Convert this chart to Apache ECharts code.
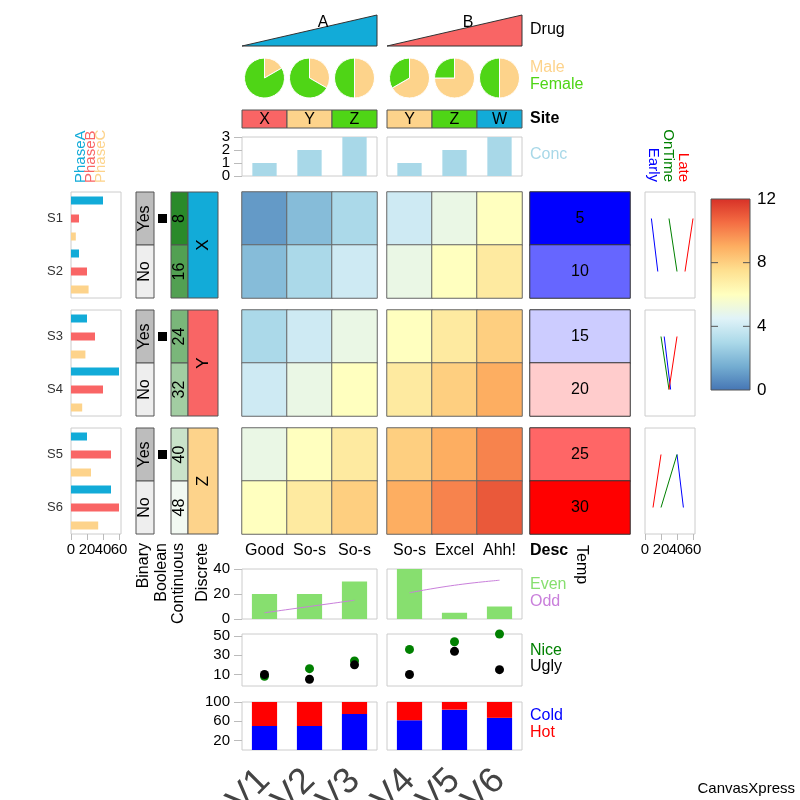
<!DOCTYPE html>
<html><head><meta charset="utf-8">
<script src="https://cdn.jsdelivr.net/npm/echarts@6.0.0/dist/echarts.min.js"></script>
<style>html,body{margin:0;padding:0;background:#fff}#c{width:800px;height:800px}</style>
</head><body><div id="c"></div>
<script>
// ---------------- data ----------------
const variables = ['V1','V2','V3','V4','V5','V6'];
const samples = ['S1','S2','S3','S4','S5','S6'];
const heatValues = [
  [1,2,3,4,5,6],
  [2,3,4,5,6,7],
  [3,4,5,6,7,8],
  [4,5,6,7,8,9],
  [5,6,7,8,9,10],
  [6,7,8,9,10,11]
];
// variable annotations
const drug = ['A','A','A','B','B','B'];
const male = [1,2,3,4,3,2];
const female = [5,4,3,2,1,2];
const site = ['X','Y','Z','Y','Z','W'];
const conc = [1,2,3,1,2,3];
const desc = ['Good','So-s','So-s','So-s','Excel','Ahh!'];
const even = [20,20,30,40,5,10];
const odd = [5,10,15,21,27,31];
const nice = [8,16,24,36,44,52];
const ugly = [10,5,20,10,34,15];
const cold = [50,50,75,62,84,67];
const hot = [50,50,25,38,16,33];
// sample annotations
const phaseA = [40,10,20,60,20,50];
const phaseB = [10,20,30,40,50,60];
const phaseC = [6,22,18,14,25,34];
const binary = ['Yes','No','Yes','No','Yes','No'];
const booleanVals = [true,false,true,false,true,false];
const continuous = [8,16,24,32,40,48];
const discrete = ['X','X','Y','Y','Z','Z'];
const temp = [5,10,15,20,25,30];
const early = [8,16,24,32,40,48];
const ontime = [30,40,20,30,40,20];
const late = [60,50,40,30,20,10];
// tick labels
const barTicks = [0,20,40,60];
const concTicks = [0,1,2,3];
const evenTicks = [0,20,40];
const niceTicks = [10,30,50];
const coldTicks = [20,60,100];
const colorbarTicks = [0,4,8,12];
const colorbarInnerTicks = [4,8];

// ---------------- styles ----------------
const FF = '"Liberation Sans", Arial, Helvetica, sans-serif';
const font = (sz, w) => (w ? w + ' ' : '') + sz + 'px ' + FF;
const BLUE = '#12abd8', SALMON = '#f96565', ORANGE = '#fdd38b', LIME = '#4fd516';
const drugColors = {A: BLUE, B: SALMON};
const siteColors = {X: SALMON, Y: ORANGE, Z: LIME, W: BLUE};
const discreteColors = {X: BLUE, Y: SALMON, Z: ORANGE};
const binaryColors = {Yes: '#bdbdbd', No: '#eeeeee'};
const RDYLBU = ['#4575b4','#74add1','#abd9e9','#e0f3f8','#ffffbf','#fee090','#fdae61','#f46d43','#d73027'];

// layout
const HX = [{left:242,width:135,vars:[0,1,2]},{left:387,width:135,vars:[3,4,5]}];
const HY = [{top:192,height:106,samp:[0,1]},{top:310,height:106,samp:[2,3]},{top:428,height:106,samp:[4,5]}];

const grids=[], xAxis=[], yAxis=[], series=[];
const heatIdx=[], tempIdx=[], contIdx=[];
function addGrid(r, show, bc, bg){ grids.push(Object.assign({show:!!show, outerBoundsMode:'none', containLabel:false, borderColor:bc||'#cccccc', borderWidth:1, backgroundColor:bg||'transparent'}, r)); return grids.length-1; }
function addX(gi,o){ xAxis.push(Object.assign({gridIndex:gi}, o)); return xAxis.length-1; }
function addY(gi,o){ yAxis.push(Object.assign({gridIndex:gi}, o)); return yAxis.length-1; }
const HID = {axisLine:{show:false}, axisTick:{show:false}, axisLabel:{show:false}, splitLine:{show:false}};
const cat = (data, ex) => Object.assign({type:'category', data}, HID, ex||{});
const val = (min, max, ex) => Object.assign({type:'value', min, max}, HID, ex||{});
function lab(values, margin){ return {show:true, customValues:values, showMinLabel:true, showMaxLabel:true, hideOverlap:false, fontSize:15, fontFamily:FF, color:'#000', margin}; }
function shownY(values){ return {axisLabel:lab(values, 12), axisTick:{show:true, customValues:values, length:8, lineStyle:{color:'#bbbbbb'}}}; }
function tickOnlyY(values){ return {axisTick:{show:true, customValues:values, length:8, lineStyle:{color:'#bbbbbb'}}}; }
function tickOnlyX(values){ return {axisTick:{show:true, customValues:values, length:6, lineStyle:{color:'#bbbbbb'}}}; }
function txt(text, x, y, fill, size, extra){ return Object.assign({type:'text', x, y, style:{text, font:font(size, extra && extra.weight), fill, textAlign:(extra&&extra.align)||'left', textVerticalAlign:'middle'}}, extra && extra.rotation ? {rotation: extra.rotation} : {}); }
// tightly packed tick labels (allowed to touch, as in the original) drawn through the axis scale
function tickLabelSeries(xi, yi, values, dir){
  return {type:'custom', xAxisIndex:xi, yAxisIndex:yi, silent:true, clip:false,
    data: values.map(v => dir === 'y' ? [0, v] : [v, 0]),
    renderItem:(p, api) => { const cs = p.coordSys;
      if (dir === 'y') { const y = api.coord([0, api.value(1)])[1];
        return {type:'text', x:cs.x-12, y, style:{text:String(api.value(1)), font:font(15), fill:'#000', textAlign:'right', textVerticalAlign:'middle'}}; }
      const x = api.coord([api.value(0), 0])[0];
      return {type:'text', x, y:cs.y+cs.height+16, style:{text:String(api.value(0)), font:font(15), fill:'#000', textAlign:'center', textVerticalAlign:'middle'}}; }};
}

function cellRect(api, fill, stroke){
  const c = api.coord([api.value(0), api.value(1)]);
  const s = api.size([1,1]);
  return {c, rect:{type:'rect', shape:{x:c[0]-s[0]/2, y:c[1]-s[1]/2, width:s[0], height:s[1]}, style:{fill, stroke:stroke||'#555', lineWidth:1}}};
}

// ---------------- rows ----------------
HY.forEach((R, r) => {
  const sNames = R.samp.map(s => samples[s]);
  // heatmap blocks
  HX.forEach((C) => {
    const gi = addGrid({left:C.left, top:R.top, width:C.width, height:R.height});
    const xi = addX(gi, cat(C.vars.map(v => variables[v])));
    const yi = addY(gi, cat(sNames, {inverse:true}));
    const data = [];
    R.samp.forEach((s,i) => C.vars.forEach((v,j) => data.push([j, i, heatValues[s][v]])));
    series.push({type:'heatmap', xAxisIndex:xi, yAxisIndex:yi, data, itemStyle:{borderColor:'#666', borderWidth:1}, emphasis:{disabled:true}, silent:true});
    heatIdx.push(series.length-1);
  });
  // left bars
  {
    const gi = addGrid({left:71, top:R.top, width:50, height:R.height}, true);
    const xi = addX(gi, val(0, 62.5, r===2 ? tickOnlyX(barTicks) : {}));
    const yi = addY(gi, cat(sNames, {inverse:true, axisLabel:{show:true, fontSize:13, fontFamily:FF, color:'#333', margin:8}}));
    [[phaseA, BLUE],[phaseB, SALMON],[phaseC, ORANGE]].forEach(([arr,col]) => {
      series.push({type:'bar', xAxisIndex:xi, yAxisIndex:yi, data:R.samp.map(s => arr[s]), barWidth:8, barGap:'125%', itemStyle:{color:col}, silent:true});
    });
    if (r === 2) series.push(tickLabelSeries(xi, yi, barTicks, 'x'));
  }
  // binary
  {
    const gi = addGrid({left:136, top:R.top, width:18, height:R.height});
    const xi = addX(gi, cat(['Binary'])); const yi = addY(gi, cat(sNames, {inverse:true}));
    series.push({type:'custom', xAxisIndex:xi, yAxisIndex:yi, silent:true, data:R.samp.map((s,i)=>[0,i]),
      renderItem:(p, api) => { const s = R.samp[p.dataIndex]; const o = cellRect(api, binaryColors[binary[s]]);
        return {type:'group', children:[o.rect, {type:'text', x:o.c[0], y:o.c[1], rotation:Math.PI/2, style:{text:binary[s], font:font(16), fill:'#000', textAlign:'center', textVerticalAlign:'middle'}}]}; }});
  }
  // boolean
  {
    const gi = addGrid({left:157, top:R.top, width:11, height:R.height});
    const xi = addX(gi, cat(['Boolean'])); const yi = addY(gi, cat(sNames, {inverse:true}));
    series.push({type:'custom', xAxisIndex:xi, yAxisIndex:yi, silent:true, data:R.samp.map((s,i)=>[0,i]),
      renderItem:(p, api) => { const s = R.samp[p.dataIndex]; if (!booleanVals[s]) return null;
        const c = api.coord([api.value(0), api.value(1)]);
        return {type:'rect', shape:{x:c[0]-4.5, y:c[1]-4.5, width:9, height:9}, style:{fill:'#000'}}; }});
  }
  // continuous
  {
    const gi = addGrid({left:171, top:R.top, width:17, height:R.height});
    const xi = addX(gi, cat(['Continuous'])); const yi = addY(gi, cat(sNames, {inverse:true}));
    series.push({type:'custom', xAxisIndex:xi, yAxisIndex:yi, silent:true, data:R.samp.map((s,i)=>[0,i,continuous[s]]),
      renderItem:(p, api) => { const o = cellRect(api, api.visual('color'));
        return {type:'group', children:[o.rect, {type:'text', x:o.c[0], y:o.c[1], rotation:Math.PI/2, style:{text:String(api.value(2)), font:font(16), fill:'#000', textAlign:'center', textVerticalAlign:'middle'}}]}; }});
    contIdx.push(series.length-1);
  }
  // discrete (one merged cell per group)
  {
    const gi = addGrid({left:188, top:R.top, width:30, height:R.height});
    const d = discrete[R.samp[0]];
    const xi = addX(gi, cat(['Discrete'])); const yi = addY(gi, cat([d]));
    series.push({type:'custom', xAxisIndex:xi, yAxisIndex:yi, silent:true, data:[[0,0]],
      renderItem:(p, api) => { const o = cellRect(api, discreteColors[d]);
        return {type:'group', children:[o.rect, {type:'text', x:o.c[0], y:o.c[1], rotation:Math.PI/2, style:{text:d, font:font(17), fill:'#000', textAlign:'center', textVerticalAlign:'middle'}}]}; }});
  }
  // temp
  {
    const gi = addGrid({left:530, top:R.top, width:100, height:R.height});
    const xi = addX(gi, cat(['Temp'])); const yi = addY(gi, cat(sNames, {inverse:true}));
    series.push({type:'heatmap', xAxisIndex:xi, yAxisIndex:yi, silent:true, data:R.samp.map((s,i)=>[0,i,temp[s]]),
      label:{show:true, formatter:(p)=>String(p.value[2]), fontSize:16, fontFamily:FF, color:'#000'},
      itemStyle:{borderColor:'#333', borderWidth:1}, emphasis:{disabled:true}});
    tempIdx.push(series.length-1);
  }
  // right lines
  {
    const gi = addGrid({left:645, top:R.top, width:50, height:R.height}, true);
    const xi = addX(gi, val(0, 62.5, r===2 ? tickOnlyX(barTicks) : {}));
    const yi = addY(gi, cat(sNames, {inverse:true}));
    [[early,'#0000ff'],[ontime,'#008000'],[late,'#ff0000']].forEach(([arr,col]) => {
      series.push({type:'line', xAxisIndex:xi, yAxisIndex:yi, silent:true, symbol:'none', data:R.samp.map((s,i)=>[arr[s], i]), lineStyle:{color:col, width:1}});
    });
    if (r === 2) series.push(tickLabelSeries(xi, yi, barTicks, 'x'));
  }
});

// ---------------- column annotations ----------------
const drugX = [];
HX.forEach((C, c) => {
  const names = C.vars.map(v => variables[v]);
  // drug triangle
  {
    const gi = addGrid({left:C.left, top:15, width:C.width, height:31});
    const xi = addX(gi, cat(names)); const yi = addY(gi, val(0,1));
    drugX.push(xi);
    series.push({type:'custom', xAxisIndex:xi, yAxisIndex:yi, silent:true, data:C.vars.map((v,j)=>[j,0]),
      renderItem:(p, api) => { if (p.dataIndex !== 0) return null;
        const n = C.vars.length; const a = api.coord([0,0]), b = api.coord([n-1,1]); const bw = api.size([1,0])[0];
        const L = a[0]-bw/2, Rr = b[0]+bw/2, B = a[1], T = b[1]; const d = drug[C.vars[0]];
        return {type:'group', children:[
          {type:'polygon', shape:{points:[[L,B],[Rr,T],[Rr,B]]}, style:{fill:drugColors[d], stroke:'#333', lineWidth:1}},
          {type:'text', x:L+0.6*(Rr-L), y:T+8, style:{text:d, font:font(16), fill:'#000', textAlign:'center', textVerticalAlign:'middle'}}]}; }});
  }
  // site
  {
    const gi = addGrid({left:C.left, top:110, width:C.width, height:18});
    const xi = addX(gi, cat(names)); const yi = addY(gi, cat(['Site']));
    series.push({type:'custom', xAxisIndex:xi, yAxisIndex:yi, silent:true, data:C.vars.map((v,j)=>[j,0]),
      renderItem:(p, api) => { const v = C.vars[p.dataIndex]; const o = cellRect(api, siteColors[site[v]], '#555');
        return {type:'group', children:[o.rect, {type:'text', x:o.c[0], y:o.c[1]+1, style:{text:site[v], font:font(16), fill:'#000', textAlign:'center', textVerticalAlign:'middle'}}]}; }});
  }
  // conc
  {
    const gi = addGrid({left:C.left, top:137, width:C.width, height:39}, true);
    const xi = addX(gi, cat(names)); const yi = addY(gi, val(0, 3, c===0 ? tickOnlyY(concTicks) : {}));
    series.push({type:'bar', xAxisIndex:xi, yAxisIndex:yi, silent:true, data:C.vars.map(v=>conc[v]), barWidth:'54%', itemStyle:{color:'#a8d8e8'}});
    if (c === 0) series.push(tickLabelSeries(xi, yi, concTicks, 'y'));
  }
  // pies
  C.vars.forEach(v => {
    series.push({type:'pie', id:'pie'+v, radius:20, center:[0,78], startAngle:90, clockwise:true, silent:true,
      label:{show:false}, labelLine:{show:false}, emphasis:{disabled:true},
      itemStyle:{borderColor:'#fff', borderWidth:1},
      data:[{name:'Male', value:male[v], itemStyle:{color:ORANGE}}, {name:'Female', value:female[v], itemStyle:{color:LIME}}]});
  });
  // even / odd
  {
    const gi = addGrid({left:C.left, top:569, width:C.width, height:50}, true);
    const xi = addX(gi, cat(names, {position:'top', axisLabel:{show:true, interval:0, hideOverlap:false, formatter:(val, i)=>desc[C.vars[i]], fontSize:16, fontFamily:FF, color:'#000', margin:10}}));
    const yi = addY(gi, val(0, 40, c===0 ? shownY(evenTicks) : {}));
    series.push({type:'bar', xAxisIndex:xi, yAxisIndex:yi, silent:true, data:C.vars.map(v=>even[v]), barWidth:'56%', itemStyle:{color:'#87df6f'}});
    series.push({type:'line', xAxisIndex:xi, yAxisIndex:yi, silent:true, smooth:true, symbol:'none', data:C.vars.map(v=>odd[v]), lineStyle:{color:'#c97fdb', width:1}});
  }
  // nice / ugly
  {
    const gi = addGrid({left:C.left, top:634, width:C.width, height:52}, true);
    const xi = addX(gi, cat(names)); const yi = addY(gi, val(-2, 52, c===0 ? shownY(niceTicks) : {}));
    series.push({type:'scatter', xAxisIndex:xi, yAxisIndex:yi, silent:true, symbolSize:9, data:C.vars.map(v=>nice[v]), itemStyle:{color:'#008000', opacity:1}});
    series.push({type:'scatter', xAxisIndex:xi, yAxisIndex:yi, silent:true, symbolSize:9, data:C.vars.map(v=>ugly[v]), itemStyle:{color:'#000', opacity:1}});
  }
  // cold / hot
  {
    const gi = addGrid({left:C.left, top:702, width:C.width, height:48}, true);
    const xi = addX(gi, cat(names, {axisLabel:{show:true, interval:0, hideOverlap:false, rotate:45, fontSize:36, fontFamily:FF, color:'#444', margin:25}}));
    const yi = addY(gi, val(0, 100, c===0 ? shownY(coldTicks) : {}));
    series.push({type:'bar', xAxisIndex:xi, yAxisIndex:yi, silent:true, stack:'ch'+c, data:C.vars.map(v=>cold[v]), barWidth:'56%', itemStyle:{color:'#0000ff'}});
    series.push({type:'bar', xAxisIndex:xi, yAxisIndex:yi, silent:true, stack:'ch'+c, data:C.vars.map(v=>hot[v]), barWidth:'56%', itemStyle:{color:'#ff0000'}});
  }
});

// ---------------- colour bar legend ----------------
{
  const grad = {type:'linear', x:0, y:1, x2:0, y2:0, colorStops: RDYLBU.map((col,i)=>({offset:i/(RDYLBU.length-1), color:col}))};
  const gi = addGrid({left:711, top:199, width:39, height:191}, true, '#555', grad);
  const xi = addX(gi, val(0,1));
  const yi = addY(gi, val(0, 12, {position:'right', axisLabel:{show:true, customValues:colorbarTicks, showMinLabel:true, showMaxLabel:true, hideOverlap:false, fontSize:17, fontFamily:FF, color:'#000', margin:7}}));
  series.push({type:'custom', xAxisIndex:xi, yAxisIndex:yi, silent:true, data:colorbarInnerTicks.map(t=>[0,t]),
    renderItem:(p, api) => { const cs = p.coordSys; const y = api.coord([0, api.value(1)])[1];
      return {type:'group', children:[
        {type:'line', shape:{x1:cs.x, y1:y, x2:cs.x+7, y2:y}, style:{stroke:'#555', lineWidth:1}},
        {type:'line', shape:{x1:cs.x+cs.width-7, y1:y, x2:cs.x+cs.width, y2:y}, style:{stroke:'#555', lineWidth:1}}]}; }});
}

// ---------------- texts ----------------
const R90 = Math.PI/2;
const elements = [
  txt('Drug', 530, 30, '#000', 16),
  txt('Male', 530, 68, ORANGE, 16),
  txt('Female', 530, 85, LIME, 16),
  txt('Site', 530, 119, '#000', 16, {weight:'bold'}),
  txt('Conc', 530, 155, '#a8d8e8', 16),
  txt('Desc', 530, 551, '#000', 16, {weight:'bold'}),
  txt('Temp', 581, 545, '#000', 16, {rotation:-R90}),
  txt('Even', 530, 585, '#87df6f', 16),
  txt('Odd', 530, 602, '#c97fdb', 16),
  txt('Nice', 530, 651, '#008000', 16),
  txt('Ugly', 530, 667, '#000', 16),
  txt('Cold', 530, 716, '#0000ff', 16),
  txt('Hot', 530, 733, '#ff0000', 16),
  txt('PhaseA', 81, 183, BLUE, 15, {rotation:R90}),
  txt('PhaseB', 91, 183, SALMON, 15, {rotation:R90}),
  txt('PhaseC', 101, 183, ORANGE, 15, {rotation:R90}),
  txt('Early', 653, 182, '#0000ff', 15, {rotation:-R90, align:'right'}),
  txt('OnTime', 668, 182, '#008000', 15, {rotation:-R90, align:'right'}),
  txt('Late', 683, 182, '#ff0000', 15, {rotation:-R90, align:'right'}),
  txt('Binary', 144, 543, '#000', 16, {rotation:R90, align:'right'}),
  txt('Boolean', 162, 543, '#000', 16, {rotation:R90, align:'right'}),
  txt('Continuous', 179, 543, '#000', 16, {rotation:R90, align:'right'}),
  txt('Discrete', 203, 543, '#000', 16, {rotation:R90, align:'right'}),
  txt('CanvasXpress', 795, 789, '#000', 15, {align:'right'})
];

const option = {
  animation:false,
  backgroundColor:'#ffffff',
  textStyle:{fontFamily:FF},
  grid:grids, xAxis, yAxis, series,
  visualMap:[
    {type:'continuous', show:false, min:0, max:12, seriesIndex:heatIdx, dimension:2, inRange:{color:RDYLBU}},
    {type:'continuous', show:false, min:5, max:30, seriesIndex:tempIdx, dimension:2, inRange:{color:['#0000ff','#ffffff','#ff0000']}},
    {type:'continuous', show:false, min:8, max:48, seriesIndex:contIdx, dimension:2, inRange:{color:['#2a8a2a','#f2f9f2']}}
  ],
  graphic:{elements}
};

const chart = echarts.init(document.getElementById('c'));
chart.setOption(option);
// place pies over the variable columns using the axis scale
const pieUpd = [];
HX.forEach((C, c) => C.vars.forEach((v, j) => {
  const px = chart.convertToPixel({xAxisIndex: drugX[c]}, j);
  pieUpd.push({id:'pie'+v, center:[px, 78]});
}));
chart.setOption({series: pieUpd});
</script></body></html>
